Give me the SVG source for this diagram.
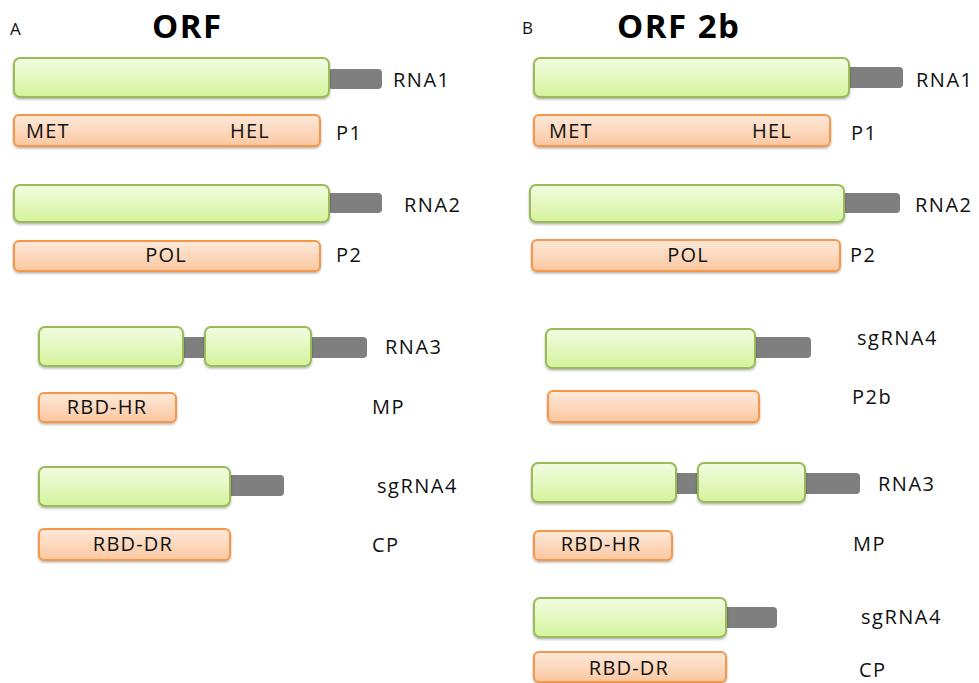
<svg xmlns="http://www.w3.org/2000/svg" width="979" height="683" viewBox="0 0 979 683">
<defs>
<linearGradient id="gg" x1="0" y1="0" x2="0" y2="1">
<stop offset="0" stop-color="#f2fce2"/>
<stop offset="1" stop-color="#d5f39c"/>
</linearGradient>
<linearGradient id="og" x1="0" y1="0" x2="0" y2="1">
<stop offset="0" stop-color="#fde9da"/>
<stop offset="1" stop-color="#fbc7a0"/>
</linearGradient>
<filter id="sh" x="-5%" y="-20%" width="110%" height="150%">
<feDropShadow dx="0" dy="1.5" stdDeviation="1.2" flood-color="#000" flood-opacity="0.3"/>
</filter>
</defs>
<style>
.g{fill:url(#gg);stroke:#9bbb59;stroke-width:2;filter:url(#sh)}
.o{fill:url(#og);stroke:#f79646;stroke-width:2;filter:url(#sh)}
.t{fill:#7f7f7f}
text{font-family:"Open Sans","Liberation Sans",sans-serif;fill:#111}
.l{font-size:20px;letter-spacing:1.5px;font-weight:500}
.in{font-size:20px;letter-spacing:1.2px;font-weight:500}
.h{font-size:33px;font-weight:bold;fill:#000;letter-spacing:1.5px}
.p{font-size:17px}
</style>
<rect width="979" height="683" fill="#fff"/>

<g id="panelA-title">
<text class="p" x="10" y="35">A</text>
<text class="h" x="152" y="38">ORF</text>
</g>
<g id="A-RNA1">
<rect class="t" x="328" y="69" width="54" height="20" rx="4"/>
<rect class="g" x="14" y="58" width="315" height="39" rx="6"/>
<text class="l" x="393" y="87">RNA1</text>
</g>
<g id="A-P1">
<rect class="o" x="14" y="115" width="306" height="31" rx="5"/>
<text class="in" x="26" y="138">MET</text>
<text class="in" x="230" y="138">HEL</text>
<text class="l" x="336" y="140">P1</text>
</g>
<g id="A-RNA2">
<rect class="t" x="328" y="193" width="54" height="20" rx="4"/>
<rect class="g" x="14" y="185" width="315" height="37" rx="6"/>
<text class="l" x="404" y="212">RNA2</text>
</g>
<g id="A-P2">
<rect class="o" x="14" y="241" width="306" height="30" rx="5"/>
<text class="in" x="166" y="262" text-anchor="middle">POL</text>
<text class="l" x="336" y="262">P2</text>
</g>
<g id="A-RNA3">
<rect class="t" x="180" y="337" width="28" height="21" rx="4"/>
<rect class="t" x="308" y="337" width="59" height="21" rx="4"/>
<rect class="g" x="39" y="327" width="144" height="39" rx="6"/>
<rect class="g" x="205" y="327" width="106" height="39" rx="6"/>
<text class="l" x="385" y="354">RNA3</text>
</g>
<g id="A-MP">
<rect class="o" x="39" y="393" width="137" height="29" rx="5"/>
<text class="in" x="107" y="414" text-anchor="middle">RBD-HR</text>
<text class="l" x="372" y="414">MP</text>
</g>
<g id="A-sgRNA4">
<rect class="t" x="227" y="475" width="57" height="21" rx="4"/>
<rect class="g" x="39" y="467" width="191" height="39" rx="6"/>
<text class="l" x="377" y="493">sgRNA4</text>
</g>
<g id="A-CP">
<rect class="o" x="39" y="529" width="191" height="31" rx="5"/>
<text class="in" x="133" y="551" text-anchor="middle">RBD-DR</text>
<text class="l" x="372" y="552">CP</text>
</g>

<g id="panelB-title">
<text class="p" x="522" y="34">B</text>
<text class="h" x="617" y="38">ORF 2b</text>
</g>
<g id="B-RNA1">
<rect class="t" x="846" y="67" width="57" height="21" rx="4"/>
<rect class="g" x="534" y="58" width="315" height="39" rx="6"/>
<text class="l" x="916" y="87">RNA1</text>
</g>
<g id="B-P1">
<rect class="o" x="534" y="115" width="296" height="31" rx="5"/>
<text class="in" x="549" y="138">MET</text>
<text class="in" x="752" y="138">HEL</text>
<text class="l" x="851" y="140">P1</text>
</g>
<g id="B-RNA2">
<rect class="t" x="842" y="193" width="58" height="20" rx="4"/>
<rect class="g" x="530" y="185" width="314" height="37" rx="6"/>
<text class="l" x="915" y="212">RNA2</text>
</g>
<g id="B-P2">
<rect class="o" x="532" y="240" width="308" height="31" rx="5"/>
<text class="in" x="688" y="262" text-anchor="middle">POL</text>
<text class="l" x="850" y="262">P2</text>
</g>
<g id="B-sgRNA4a">
<rect class="t" x="752" y="337" width="59" height="21" rx="4"/>
<rect class="g" x="546" y="329" width="209" height="39" rx="6"/>
<text class="l" x="857" y="345">sgRNA4</text>
</g>
<g id="B-P2b">
<rect class="o" x="548" y="391" width="211" height="31" rx="5"/>
<text class="l" x="852" y="404">P2b</text>
</g>
<g id="B-RNA3">
<rect class="t" x="673" y="473" width="28" height="21" rx="4"/>
<rect class="t" x="802" y="473" width="58" height="21" rx="4"/>
<rect class="g" x="532" y="463" width="144" height="39" rx="6"/>
<rect class="g" x="698" y="463" width="107" height="39" rx="6"/>
<text class="l" x="878" y="491">RNA3</text>
</g>
<g id="B-MP">
<rect class="o" x="534" y="531" width="138" height="29" rx="5"/>
<text class="in" x="601" y="551" text-anchor="middle">RBD-HR</text>
<text class="l" x="853" y="551">MP</text>
</g>
<g id="B-sgRNA4b">
<rect class="t" x="723" y="607" width="54" height="21" rx="4"/>
<rect class="g" x="534" y="598" width="192" height="39" rx="6"/>
<text class="l" x="861" y="624">sgRNA4</text>
</g>
<g id="B-CP">
<rect class="o" x="534" y="652" width="192" height="30" rx="5"/>
<text class="in" x="629" y="675" text-anchor="middle">RBD-DR</text>
<text class="l" x="859" y="677">CP</text>
</g>
<g id="connectors"/>
</svg>
